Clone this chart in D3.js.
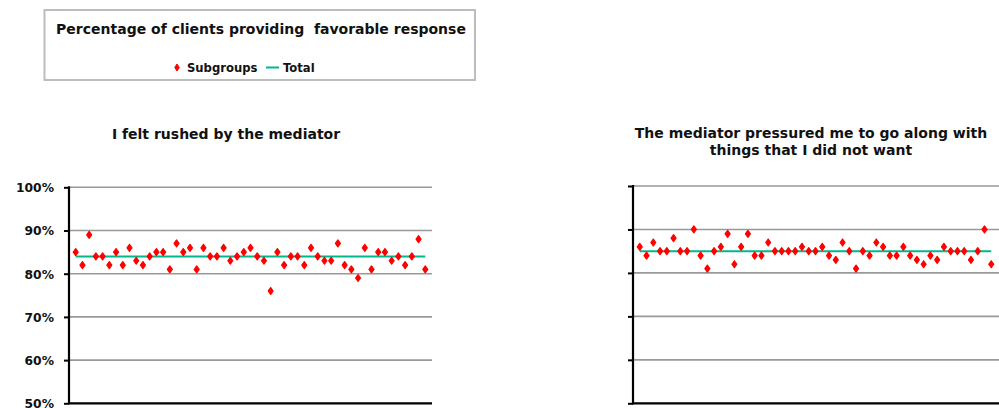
<!DOCTYPE html>
<html><head><meta charset="utf-8">
<script src="https://cdn.jsdelivr.net/npm/d3@7"></script>
<style>
html,body{margin:0;padding:0;background:#fff;}
svg text{font-family:"DejaVu Sans",Verdana,sans-serif;font-weight:bold;fill:#111;}
</style></head>
<body>
<svg id="c" width="999" height="408"></svg>
<script>
const legendTitle = "Percentage of clients providing  favorable response";
const seriesNames = ["Subgroups", "Total"];
const chartTitles = [["I felt rushed by the mediator"], ["The mediator pressured me to go along with", "things that I did not want"]];
const tickValues = [50, 60, 70, 80, 90, 100];
const tickLabels = ["50%", "60%", "70%", "80%", "90%", "100%"];
const rushed = [85,82,89,84,84,82,85,82,86,83,82,84,85,85,81,87,85,86,81,86,84,84,86,83,84,85,86,84,83,76,85,82,84,84,82,86,84,83,83,87,82,81,79,86,81,85,85,83,84,82,84,88,81];
const pressured = [86,84,87,85,85,88,85,85,90,84,81,85,86,89,82,86,89,84,84,87,85,85,85,85,86,85,85,86,84,83,87,85,81,85,84,87,86,84,84,86,84,83,82,84,83,86,85,85,85,83,85,90,82];
const totals = [84, 85];

const svg = d3.select("#c");

// Legend
const lg = svg.append("g");
lg.append("rect").attr("x",44.5).attr("y",10).attr("width",430.5).attr("height",70)
  .attr("fill","#fff").attr("stroke","#bdbdbd").attr("stroke-width",2);
lg.append("text").attr("x",261).attr("y",34).attr("text-anchor","middle")
  .style("font-size","14px").style("white-space","pre").text(legendTitle);
const diamond = (w,h)=>`M0,${-h/2}L${w/2},0L0,${h/2}L${-w/2},0Z`;
lg.append("path").attr("d",diamond(4.5,7)).attr("transform","translate(177,67.5)").attr("fill","#ff0000")
  .attr("stroke","#ff0000").attr("stroke-width",1).attr("stroke-linejoin","round");
lg.append("text").attr("x",187).attr("y",72).style("font-size","11.6px").text(seriesNames[0]);
lg.append("line").attr("x1",266).attr("x2",279).attr("y1",67.5).attr("y2",67.5).attr("stroke","#00b88c").attr("stroke-width",2);
lg.append("text").attr("x",283).attr("y",72).style("font-size","11.6px").text(seriesNames[1]);

const panels = [
  {data: rushed, total: totals[0], x0: 69, x1: 432, gx1: 432, yTop: 187.3, yBot: 403.3, titleX: 226, titleY: 139, titles: chartTitles[0], labels: true},
  {data: pressured, total: totals[1], x0: 633, x1: 998, gx1: 1000, yTop: 186, yBot: 403.3, titleX: 811, titleY: 138, titles: chartTitles[1], labels: false}
];

panels.forEach(p => {
  const g = svg.append("g");
  const x = d3.scaleLinear().domain([0, 54]).range([p.x0, p.x1]);
  const y = d3.scaleLinear().domain([50, 100]).range([p.yBot, p.yTop]);

  // title
  p.titles.forEach((t,i)=>{
    g.append("text").attr("x",p.titleX).attr("y",p.titleY + i*17).attr("text-anchor","middle")
      .style("font-size","14px").text(t);
  });

  // gridlines
  g.selectAll(".grid").data(tickValues.filter(v=>v>50)).join("line")
    .attr("x1",p.x0).attr("x2",p.gx1).attr("y1",d=>y(d)).attr("y2",d=>y(d))
    .attr("stroke","#999").attr("stroke-width",1.6);

  // y axis
  const ax = d3.axisLeft(y).tickValues(tickValues).tickSize(5)
    .tickFormat((d,i)=> p.labels ? tickLabels[i] : "");
  const ag = g.append("g").attr("transform",`translate(${p.x0},0)`).call(ax);
  ag.select(".domain").remove();
  ag.selectAll(".tick line").attr("stroke","#000").attr("stroke-width",2);
  ag.selectAll(".tick text").attr("x",-15).attr("dy","0.36em").style("font-size","12.3px").style("font-family","'DejaVu Sans',sans-serif").style("font-weight","bold").attr("fill","#111");
  g.append("line").attr("x1",p.x0).attr("x2",p.x0).attr("y1",p.yTop-1).attr("y2",p.yBot+1).attr("stroke","#000").attr("stroke-width",2.2);
  g.append("line").attr("x1",p.x0).attr("x2",p.gx1).attr("y1",p.yBot).attr("y2",p.yBot).attr("stroke","#000").attr("stroke-width",2.2);

  // total line
  g.append("path").datum([1, p.data.length])
    .attr("d", d3.line().x(d=>x(d)).y(()=>y(p.total)))
    .attr("stroke","#00b88c").attr("stroke-width",2).attr("fill","none");

  // subgroup markers
  g.selectAll(".pt").data(p.data).join("path")
    .attr("d", diamond(5,7))
    .attr("transform",(d,i)=>`translate(${x(i+1)},${y(d)})`)
    .attr("fill","#ff0000").attr("stroke","#ff0000").attr("stroke-width",1.2).attr("stroke-linejoin","round");
});
</script>
</body></html>
